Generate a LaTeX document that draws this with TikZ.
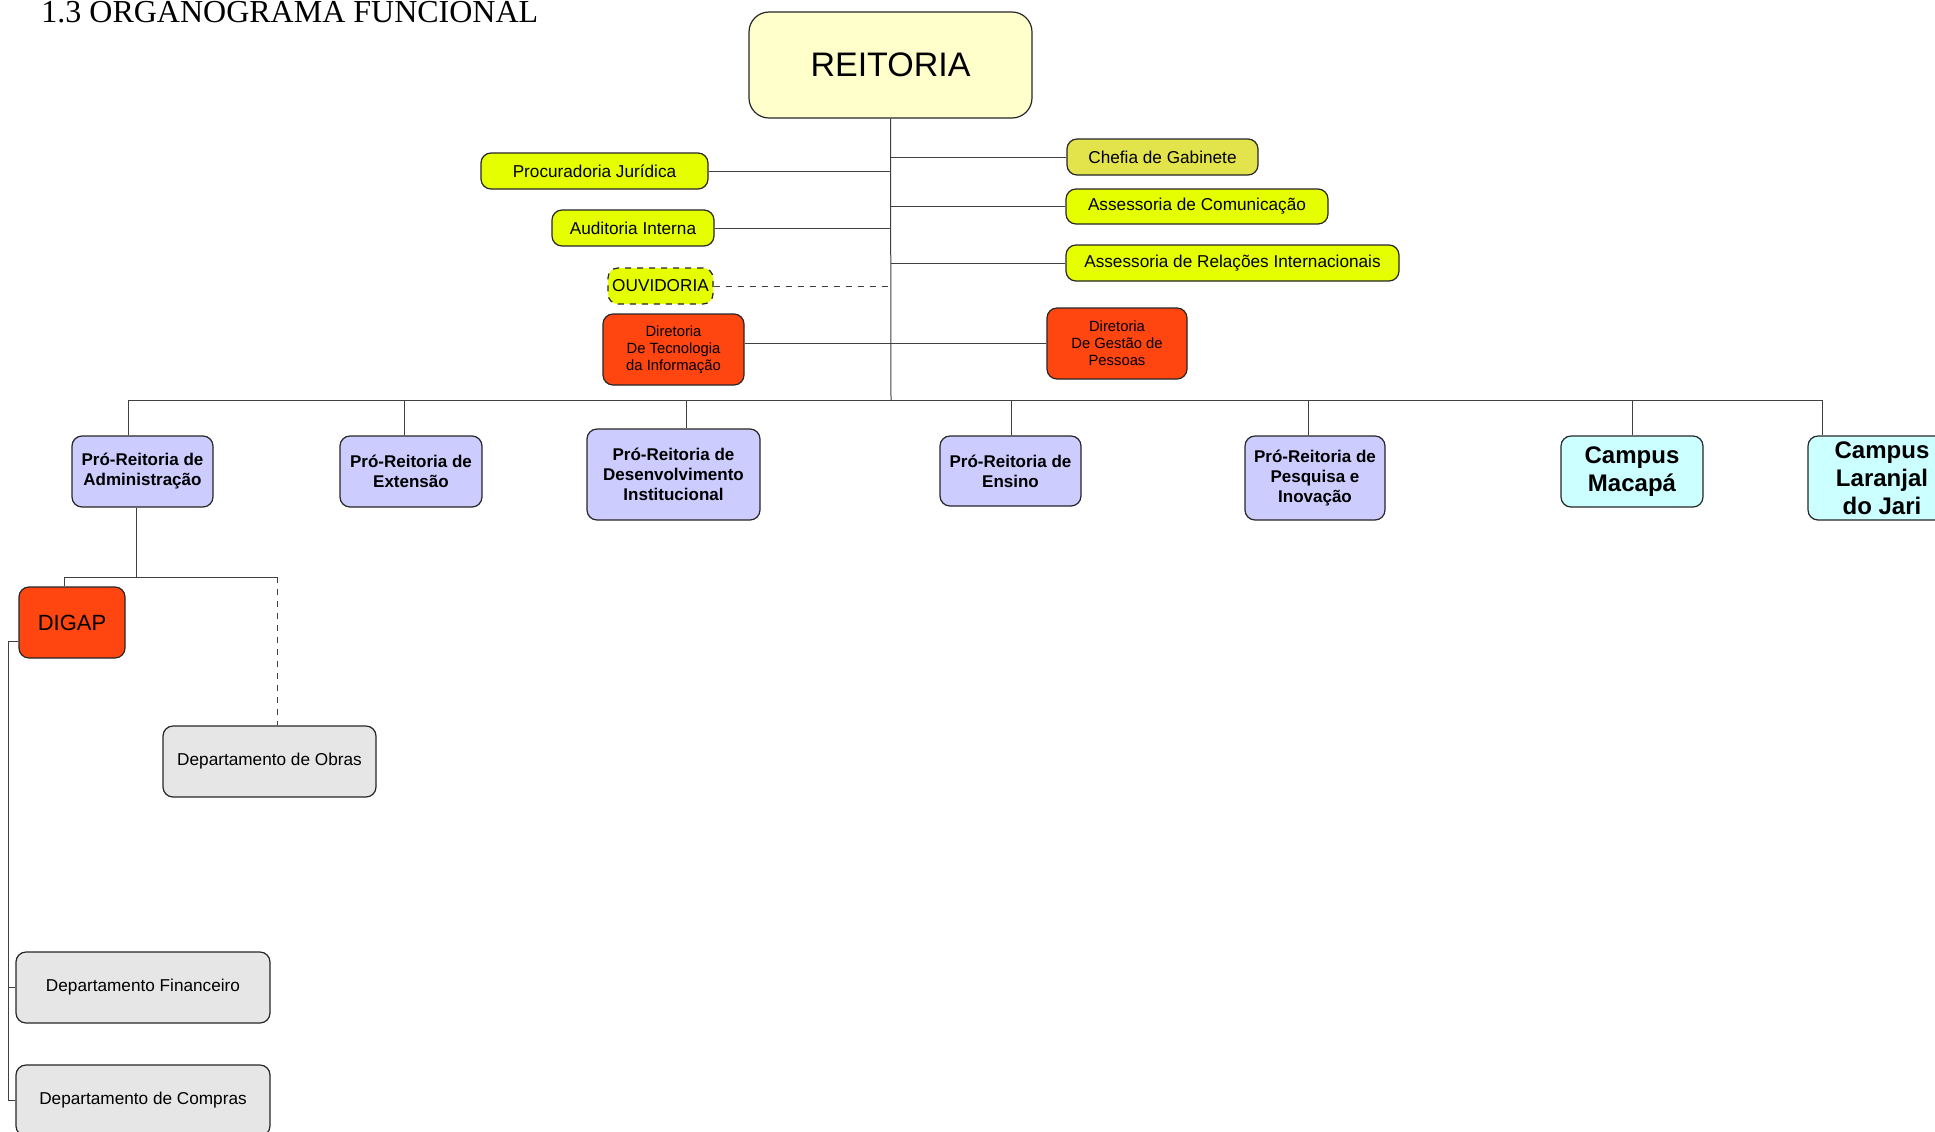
\documentclass[tikz,border=0pt]{standalone}
\usepackage{fontspec}
\setmainfont{Liberation Sans}
\newfontfamily\titulofont{Liberation Serif}

\definecolor{reitcor}{HTML}{FFFFCC}
\definecolor{assesscor}{HTML}{E6FF00}
\definecolor{chefcor}{HTML}{E3E34C}
\definecolor{dircor}{HTML}{FF4510}
\definecolor{procor}{HTML}{CCCCFF}
\definecolor{campcor}{HTML}{CCFFFF}
\definecolor{depcor}{HTML}{E6E6E6}

\tikzstyle{caixa} = [rectangle, rounded corners=5pt, draw=black!85, line width=0.6pt, inner sep=0pt, align=center]
\tikzstyle{assessoria} = [caixa, fill=assesscor, minimum height=18pt, font=\fontsize{8.6}{10}\selectfont]
\tikzstyle{diretoria} = [caixa, fill=dircor, minimum height=35.5pt, font=\fontsize{7.4}{8.5}\selectfont]
\tikzstyle{proreitoria} = [caixa, fill=procor, font=\bfseries\fontsize{8.5}{10}\selectfont]
\tikzstyle{campus} = [caixa, fill=campcor, font=\bfseries\fontsize{12}{14}\selectfont]
\tikzstyle{departamento} = [caixa, fill=depcor, minimum height=35.5pt, font=\fontsize{8.6}{10}\selectfont]
\tikzstyle{linha} = [draw=black!75, line width=0.5pt]

\begin{document}
\begin{tikzpicture}[x=0.5pt, y=-0.5pt]

    \useasboundingbox (0,0) rectangle (1935,1131);

    \node (titulo) [anchor=base west, inner sep=0pt, font=\titulofont\fontsize{16}{19}\selectfont] at (41,22) {1.3 ORGANOGRAMA FUNCIONAL};

    % reitoria e orgaos de apoio
    \node (reitoria) [caixa, rounded corners=10pt, fill=reitcor, minimum width=141.5pt, minimum height=53pt, font=\fontsize{17}{20}\selectfont] at (890.5,65) {REITORIA};
    \node (chefia) [assessoria, fill=chefcor, minimum width=95.5pt] at (1162.5,157) {Chefia de Gabinete};
    \node (comunic) [assessoria, minimum width=131pt, minimum height=17.5pt] at (1197,206.5) {Assessoria de Comunicação};
    \node (relint) [assessoria, minimum width=166.5pt] at (1232.5,263) {Assessoria de Relações Internacionais};
    \node (procur) [assessoria, minimum width=113.5pt] at (594.5,171) {Procuradoria Jurídica};
    \node (audit) [assessoria, minimum width=81pt] at (633,228) {Auditoria Interna};
    \node (ouvid) [assessoria, dashed, minimum width=52.5pt] at (660.5,286) {OUVIDORIA};
    \node (dti) [diretoria, minimum width=70.5pt] at (673.5,349.5) {Diretoria\\De Tecnologia\\da Informação};
    \node (dgp) [diretoria, minimum width=70pt] at (1117,343.5) {Diretoria\\De Gestão de\\Pessoas};

    % pro-reitorias e campi
    \node (proad) [proreitoria, minimum width=70.5pt, minimum height=35.5pt] at (142.5,471.5) {Pró-Reitoria de\\Administração};
    \node (proex) [proreitoria, minimum width=71pt, minimum height=35.5pt] at (411,471.5) {Pró-Reitoria de\\Extensão};
    \node (prodin) [proreitoria, minimum width=86.5pt, minimum height=45.5pt] at (673.5,474.5) {Pró-Reitoria de\\Desenvolvimento\\Institucional};
    \node (proen) [proreitoria, minimum width=70.5pt, minimum height=35pt] at (1010.5,471) {Pró-Reitoria de\\Ensino};
    \node (proppi) [proreitoria, minimum width=70pt, minimum height=42pt] at (1315,478) {Pró-Reitoria de\\Pesquisa e\\Inovação};
    \node (macapa) [campus, minimum width=71pt, minimum height=35.5pt] at (1632,471.5) {Campus\\Macapá};
    \node (laranjal) [campus, minimum width=74pt, minimum height=42pt] at (1882,478) {Campus\\Laranjal\\do Jari};

    % administracao
    \node (digap) [diretoria, minimum width=53pt, font=\fontsize{11}{13}\selectfont] at (72,622.5) {DIGAP};
    \node (obras) [departamento, minimum width=106.5pt] at (269.5,761.5) {Departamento de Obras};
    \node (financ) [departamento, minimum width=127pt] at (143,987.5) {Departamento Financeiro};
    \node (compras) [departamento, minimum width=127pt] at (143,1100.5) {Departamento de Compras};

    % ligacoes
    \coordinate (bus) at (891,400);
    \draw [linha] (reitoria.south) -- (bus);
    \draw [linha] (chefia.west) -- (chefia.west -| reitoria.south);
    \draw [linha] (comunic.west) -- (comunic.west -| reitoria.south);
    \draw [linha] (relint.west) -- (relint.west -| reitoria.south);
    \draw [linha] (procur.east) -- (procur.east -| reitoria.south);
    \draw [linha] (audit.east) -- (audit.east -| reitoria.south);
    \draw [linha, dashed] (ouvid.east) -- (ouvid.east -| reitoria.south);
    \draw [linha] (dgp.west) -- (dgp.west -| dti.east);

    \coordinate (j1) at (128,400);
    \coordinate (j7) at (1822,400);
    \draw [linha] (j1) -- (j7);
    \foreach \xx/\nn in {128/proad, 404/proex, 686/prodin, 1011/proen, 1308/proppi, 1632/macapa, 1822/laranjal}
        \draw [linha] (\xx,400) -- (\xx,400 |- \nn.north);

    \coordinate (admj) at (136,577);
    \coordinate (dl) at (64,577);
    \coordinate (dr) at (277,577);
    \draw [linha] (admj |- proad.south) -- (admj);
    \draw [linha] (dl) -- (dr);
    \draw [linha] (dl) -- (dl |- digap.north);
    \draw [linha, dashed] (dr) -- (dr |- obras.north);

    \coordinate (fl) at (8,641);
    \draw [linha] (digap.west |- fl) -- (fl) -- (fl |- compras.west) -- (compras.west);
    \draw [linha] (fl |- financ.west) -- (financ.west);

\end{tikzpicture}
\end{document}
